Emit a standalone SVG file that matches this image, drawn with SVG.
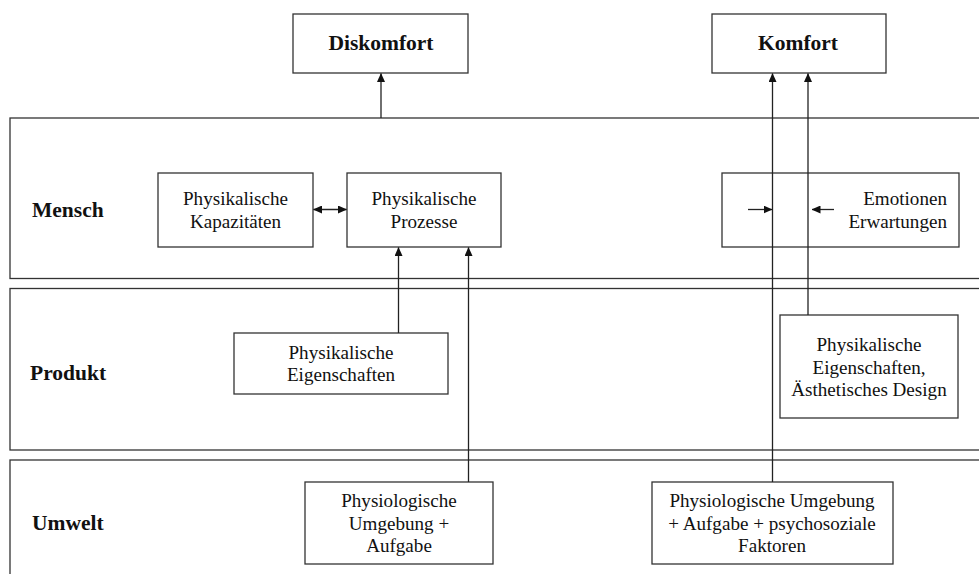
<svg xmlns="http://www.w3.org/2000/svg" width="979" height="574" viewBox="0 0 979 574">
<defs>
<style>
.band{fill:none;stroke:#333;stroke-width:1.3}
.box{fill:#fff;stroke:#333;stroke-width:1.3}
.t{font-family:"Liberation Serif","Times New Roman",serif;font-size:19.1px;fill:#111;text-anchor:middle}
.r{text-anchor:end}
.b{font-family:"Liberation Serif","Times New Roman",serif;font-size:21.5px;font-weight:bold;fill:#111}
.c{text-anchor:middle}
.ln{fill:none;stroke:#222;stroke-width:1.3}
</style>
<marker id="ah" markerUnits="userSpaceOnUse" markerWidth="9" markerHeight="8" refX="8.5" refY="4" orient="auto-start-reverse" viewBox="0 0 9 8">
<path d="M0,0 L9,4 L0,8 z" fill="#111"/>
</marker>
</defs>
<g id="band-mensch"><rect class="band" x="10" y="118" width="990" height="160.5"/><text class="b" x="32" y="217">Mensch</text></g>
<g id="band-produkt"><rect class="band" x="10" y="288.5" width="990" height="161.5"/><text class="b" x="30" y="380">Produkt</text></g>
<g id="band-umwelt"><rect class="band" x="10" y="460" width="990" height="130"/><text class="b" x="32" y="530">Umwelt</text></g>
<g id="diskomfort"><rect class="box" x="293" y="14" width="175" height="59"/><text class="b c" x="381" y="50">Diskomfort</text></g>
<g id="komfort"><rect class="box" x="712" y="14" width="174" height="59"/><text class="b c" x="798" y="50">Komfort</text></g>
<g id="kapazitaeten"><rect class="box" x="158" y="173" width="155" height="74"/><text class="t" x="235.5" y="205">Physikalische</text><text class="t" x="235.5" y="227.5">Kapazitäten</text></g>
<g id="prozesse"><rect class="box" x="347" y="173" width="154" height="74"/><text class="t" x="424" y="205">Physikalische</text><text class="t" x="424" y="227.5">Prozesse</text></g>
<g id="emotionen"><rect class="box" x="722" y="173" width="237" height="74"/><text class="t r" x="947" y="205">Emotionen</text><text class="t r" x="947" y="227.5">Erwartungen</text></g>
<g id="eigenschaften"><rect class="box" x="234" y="333" width="214" height="61"/><text class="t" x="341" y="358.5">Physikalische</text><text class="t" x="341" y="381">Eigenschaften</text></g>
<g id="design"><rect class="box" x="780" y="315" width="178" height="103"/><text class="t" x="869" y="351">Physikalische</text><text class="t" x="869" y="373.5">Eigenschaften,</text><text class="t" x="869" y="396">Ästhetisches Design</text></g>
<g id="umgebung1"><rect class="box" x="305" y="482" width="188" height="82"/><text class="t" x="399" y="507">Physiologische</text><text class="t" x="399" y="529.5">Umgebung +</text><text class="t" x="399" y="552">Aufgabe</text></g>
<g id="umgebung2"><rect class="box" x="652" y="482" width="241" height="82"/><text class="t" x="772" y="507">Physiologische Umgebung</text><text class="t" x="772" y="529.5">+ Aufgabe + psychosoziale</text><text class="t" x="772" y="552">Faktoren</text></g>
<g id="connectors">
<line class="ln" x1="381" y1="118" x2="381" y2="73.5" marker-end="url(#ah)"/>
<line class="ln" x1="313.5" y1="209.5" x2="346.5" y2="209.5" marker-start="url(#ah)" marker-end="url(#ah)"/>
<line class="ln" x1="398.5" y1="333" x2="398.5" y2="247.5" marker-end="url(#ah)"/>
<line class="ln" x1="468.5" y1="482" x2="468.5" y2="247.5" marker-end="url(#ah)"/>
<line class="ln" x1="772.5" y1="482" x2="772.5" y2="73.5" marker-end="url(#ah)"/>
<line class="ln" x1="808" y1="315" x2="808" y2="73.5" marker-end="url(#ah)"/>
<line class="ln" x1="748" y1="209.5" x2="772" y2="209.5" marker-end="url(#ah)"/>
<line class="ln" x1="834" y1="209.5" x2="812" y2="209.5" marker-end="url(#ah)"/>
</g>
</svg>
